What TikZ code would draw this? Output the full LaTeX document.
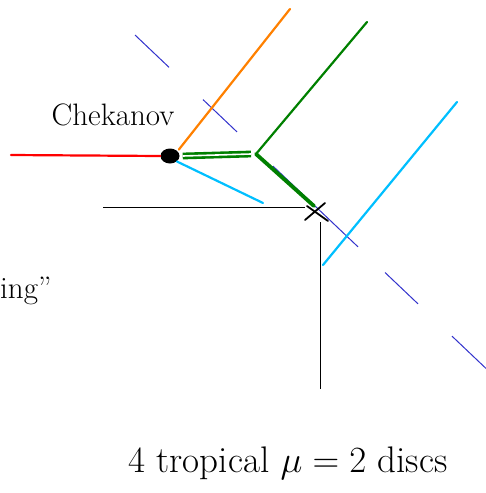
\RequirePackage{fix-cm}
\documentclass[tikz,border=0pt]{standalone}
\usepackage{amsmath}
\usepackage{fontspec}
\usepackage{xcolor}
\definecolor{WallRed}{HTML}{FF0000}
\definecolor{WallOrange}{HTML}{FF8000}
\definecolor{WallGreen}{HTML}{008000}
\definecolor{WallCyan}{HTML}{00BFFF}
\definecolor{WallBlue}{HTML}{3333CC}
\usetikzlibrary{positioning,shapes.geometric}
\tikzset{
  ray/.style={
    line width=2.2pt,
    line cap=round
  },
  wallseg/.style={
    draw=WallBlue,
    line width=1pt
  },
  axisline/.style={
    draw=black,
    line width=0.9pt
  },
  handtext/.style={
    text=black,
    inner sep=0pt
  }
}
\begin{document}
\begin{tikzpicture}[x=1pt,y=-1pt]
\useasboundingbox (0,0) rectangle (486,493);
% vertex and corner
\node[fill=black, ellipse, minimum width=19pt, minimum height=15pt, inner sep=0pt] (chek) at (170,156) {};
\coordinate (corner) at (316,212);
\coordinate (redEnd) at (11,155);
\coordinate (orangeEnd) at (290,9);
\coordinate (branch) at (256,154);
\coordinate (greenEnd) at (367,22);
\coordinate (cyanEnd) at (263,203);
\coordinate (cyanLo) at (323,265);
\coordinate (cyanHi) at (457,102);
\coordinate (axisW) at (103,207);
\coordinate (axisS) at (320,389);
% wall (dashed, drawn piece by piece)
\foreach \xa/\xb in {135/169, 203/237, 273/358, 385/418, 452/486}
  \draw[wallseg] (\xa,{35+0.95*(\xa-135)}) -- (\xb,{35+0.95*(\xb-135)});
% rays
\draw[ray, draw=WallRed] (redEnd) -- (chek.west);
\draw[ray, draw=WallOrange] (chek.north east) ++(2,-1) -- (orangeEnd);
\draw[ray, draw=WallCyan] (chek.south east) -- (cyanEnd);
\draw[ray, draw=WallCyan] (cyanLo) -- (cyanHi);
\draw[draw=WallGreen, line width=2.6pt, double=white, double distance=1.6pt] (chek.east) ++(3,0) -- ([xshift=-5pt]branch);
\draw[ray, draw=WallGreen] (branch) -- (greenEnd);
\draw[draw=WallGreen, line width=3.8pt, line cap=round] (branch) -- (314,206);
% axes and cross
\draw[axisline] (axisW) -- (305,207);
\draw[axisline] (320,222) -- (axisS);
\draw[line width=1.8pt, line cap=round] (305,220) -- (325,203);
\draw[line width=1.8pt, line cap=round] (307,206) -- (328,221);
% labels
\node[handtext, font=\fontsize{31}{33}\selectfont] (chekLabel) at (113,115) {Chekanov};
\node[handtext, font=\fontsize{31}{33}\selectfont, anchor=west] (ingLabel) at (0,291) {ing''};
\node[handtext, font=\fontsize{37}{39}\selectfont] (discLabel) at (288,463) {4 tropical $\mu=2$ discs};
\end{tikzpicture}
\end{document}
